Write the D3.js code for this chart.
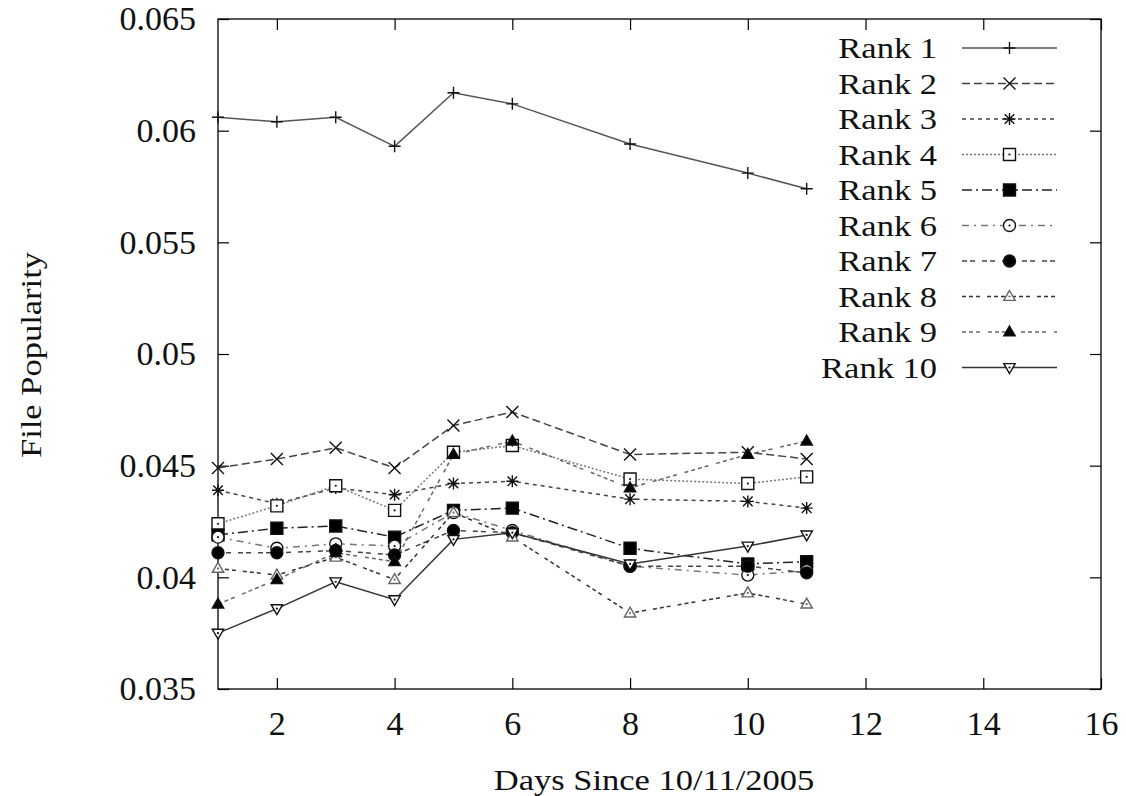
<!DOCTYPE html>
<html>
<head>
<meta charset="utf-8">
<script src="https://cdn.jsdelivr.net/npm/d3@7"></script>
<style>
  html, body { margin: 0; padding: 0; background: #fff; }
  svg { display: block; }
  text { font-family: "Liberation Serif", "Times New Roman", Times, serif; fill: #111; }
</style>
</head>
<body>
<svg id="chart" width="1126" height="796"></svg>
<script>
// Sampling days (days since 10/11/2005)
const days = [1, 2, 3, 4, 5, 6, 8, 10, 11];

// File popularity for each rank on each sampled day
const rank1  = [0.0606, 0.0604, 0.0606, 0.0593, 0.0617, 0.0612, 0.0594, 0.0581, 0.0574];
const rank2  = [0.0449, 0.0453, 0.0458, 0.0449, 0.0468, 0.0474, 0.0455, 0.0456, 0.0453];
const rank3  = [0.0439, 0.0433, 0.0440, 0.0437, 0.0442, 0.0443, 0.0435, 0.0434, 0.0431];
const rank4  = [0.0424, 0.0432, 0.0441, 0.0430, 0.0456, 0.0459, 0.0444, 0.0442, 0.0445];
const rank5  = [0.0419, 0.0422, 0.0423, 0.0418, 0.0430, 0.0431, 0.0413, 0.0406, 0.0407];
const rank6  = [0.0418, 0.0413, 0.0415, 0.0414, 0.0429, 0.0421, 0.0405, 0.0401, 0.0403];
const rank7  = [0.0411, 0.0411, 0.0412, 0.0410, 0.0421, 0.0420, 0.0405, 0.0405, 0.0402];
const rank8  = [0.0404, 0.0401, 0.0409, 0.0399, 0.0429, 0.0418, 0.0384, 0.0393, 0.0388];
const rank9  = [0.0388, 0.0399, 0.0411, 0.0407, 0.0455, 0.0461, 0.0440, 0.0455, 0.0461];
const rank10 = [0.0375, 0.0386, 0.0398, 0.0390, 0.0417, 0.0420, 0.0406, 0.0414, 0.0419];

const seriesNames = ["Rank 1", "Rank 2", "Rank 3", "Rank 4", "Rank 5",
                     "Rank 6", "Rank 7", "Rank 8", "Rank 9", "Rank 10"];
const seriesValues = [rank1, rank2, rank3, rank4, rank5, rank6, rank7, rank8, rank9, rank10];

// Axis ticks
const xTicks = [2, 4, 6, 8, 10, 12, 14, 16];
const yTicks = [0.035, 0.04, 0.045, 0.05, 0.055, 0.06, 0.065];
const yTickLabels = ["0.035", "0.04", "0.045", "0.05", "0.055", "0.06", "0.065"];

// Line style and point type per series (gnuplot-like)
const styles = [
  { dash: null,              color: "#555", marker: "plus" },
  { dash: "8,4",             color: "#444", marker: "cross" },
  { dash: "4,4",             color: "#444", marker: "star" },
  { dash: "2,2",             color: "#777", marker: "boxOpen" },
  { dash: "10,4,2,4",        color: "#222", marker: "boxFilled" },
  { dash: "7,5,2,5",         color: "#777", marker: "circleOpen" },
  { dash: "5,3,5,7",         color: "#444", marker: "circleFilled" },
  { dash: "4,3,4,3,4,7",     color: "#333", marker: "triOpen" },
  { dash: "4,3,4,3,4,8,4,3", color: "#666", marker: "triFilled" },
  { dash: null,              color: "#333", marker: "triDownOpen" }
];

const FONT = '"Liberation Serif", "Times New Roman", Times, serif';
const W = 1126, H = 796;
const margin = { left: 218, right: 25, top: 19, bottom: 107 };

const svg = d3.select("#chart");

const x = d3.scaleLinear().domain([1, 16]).range([margin.left, W - margin.right]);
const y = d3.scaleLinear().domain([0.035, 0.065]).range([H - margin.bottom, margin.top]);

// Marker shapes as small path strings centred on (0,0)
function markerPath(type) {
  const p = d3.path();
  const s = 6;
  switch (type) {
    case "plus":
      p.moveTo(-s, 0); p.lineTo(s, 0); p.moveTo(0, -s); p.lineTo(0, s); break;
    case "cross":
      p.moveTo(-s, -s); p.lineTo(s, s); p.moveTo(-s, s); p.lineTo(s, -s); break;
    case "star":
      p.moveTo(-s, 0); p.lineTo(s, 0); p.moveTo(0, -s); p.lineTo(0, s);
      p.moveTo(-s*0.8, -s*0.8); p.lineTo(s*0.8, s*0.8);
      p.moveTo(-s*0.8, s*0.8); p.lineTo(s*0.8, -s*0.8); break;
    case "boxOpen":
    case "boxFilled":
      p.rect(-s, -s, 2*s, 2*s); break;
    case "circleOpen":
    case "circleFilled":
      p.moveTo(s, 0); p.arc(0, 0, s, 0, 2*Math.PI); break;
    case "triOpen":
    case "triFilled":
      p.moveTo(0, -s); p.lineTo(s*0.95, s*0.65); p.lineTo(-s*0.95, s*0.65); p.closePath(); break;
    case "triDownOpen":
      p.moveTo(0, s); p.lineTo(s*0.95, -s*0.65); p.lineTo(-s*0.95, -s*0.65); p.closePath(); break;
  }
  return p.toString();
}

function drawMarker(g, type, cx, cy) {
  const filled = type === "boxFilled" || type === "circleFilled" || type === "triFilled";
  const strokeCol = type === "triOpen" ? "#666" : "#111";
  g.append("path")
    .attr("d", markerPath(type))
    .attr("transform", `translate(${cx},${cy})`)
    .attr("fill", filled ? "#000" : (type === "plus" || type === "cross" || type === "star" ? "none" : "#fff"))
    .attr("stroke", strokeCol)
    .attr("stroke-width", 1.4);
  if (["boxOpen", "circleOpen", "triOpen", "triDownOpen"].includes(type)) {
    g.append("circle")
      .attr("cx", cx).attr("cy", cy).attr("r", 1.1)
      .attr("fill", strokeCol);
  }
}

// Axes: ticks point inward and are mirrored on all four sides
const tickLen = 11;
const xAxisB = d3.axisBottom(x).tickValues(xTicks).tickSize(-tickLen).tickPadding(22).tickFormat(d3.format("d"));
const xAxisT = d3.axisTop(x).tickValues(xTicks).tickSize(-tickLen).tickFormat("");
const yAxisL = d3.axisLeft(y).tickValues(yTicks).tickSize(-tickLen).tickPadding(22)
  .tickFormat((d, i) => yTickLabels[i]);
const yAxisR = d3.axisRight(y).tickValues(yTicks).tickSize(-tickLen).tickFormat("");

function styleAxis(g) {
  g.select(".domain").remove();
  g.selectAll(".tick line").attr("stroke", "#000").attr("stroke-width", 1.2);
  g.selectAll(".tick text")
    .attr("font-family", FONT)
    .attr("font-size", 34)
    .attr("fill", "#111");
}

svg.append("g").attr("transform", `translate(0,${y.range()[0]})`).call(xAxisB).call(styleAxis);
svg.append("g").attr("transform", `translate(0,${y.range()[1]})`).call(xAxisT).call(styleAxis);
svg.append("g").attr("transform", `translate(${x.range()[0]},0)`).call(yAxisL).call(styleAxis);
svg.append("g").attr("transform", `translate(${x.range()[1]},0)`).call(yAxisR).call(styleAxis);

// Plot frame
svg.append("rect")
  .attr("x", x.range()[0]).attr("y", y.range()[1])
  .attr("width", x.range()[1] - x.range()[0])
  .attr("height", y.range()[0] - y.range()[1])
  .attr("fill", "none").attr("stroke", "#000").attr("stroke-width", 1.3);

// Series lines and points
const line = d3.line().x(d => x(d[0])).y(d => y(d[1]));
const plot = svg.append("g");

seriesValues.forEach((vals, i) => {
  const pts = days.map((d, j) => [d, vals[j]]);
  const st = styles[i];
  plot.append("path")
    .attr("d", line(pts))
    .attr("fill", "none")
    .attr("stroke", st.color)
    .attr("stroke-width", 1.5)
    .attr("stroke-dasharray", st.dash);
});
seriesValues.forEach((vals, i) => {
  const g = plot.append("g");
  days.forEach((d, j) => drawMarker(g, styles[i].marker, x(d), y(vals[j])));
});

// Legend
const legend = svg.append("g");
const legTextRight = 937, legLineX0 = 962, legLineX1 = 1057, legTop = 48, legStep = 35.5;
seriesNames.forEach((name, i) => {
  const cy = legTop + i * legStep;
  legend.append("text")
    .attr("transform", `translate(${legTextRight},${cy + 10}) scale(1.15,1)`)
    .attr("text-anchor", "end")
    .attr("font-family", FONT)
    .attr("font-size", 30)
    .text(name);
  legend.append("line")
    .attr("x1", legLineX0).attr("x2", legLineX1)
    .attr("y1", cy).attr("y2", cy)
    .attr("stroke", styles[i].color)
    .attr("stroke-width", 1.5)
    .attr("stroke-dasharray", styles[i].dash);
  drawMarker(legend, styles[i].marker, (legLineX0 + legLineX1) / 2, cy);
});

// Axis titles
svg.append("text")
  .attr("transform", `translate(654,790) scale(1.15,1)`)
  .attr("text-anchor", "middle")
  .attr("font-family", FONT)
  .attr("font-size", 30)
  .text("Days Since 10/11/2005");

svg.append("text")
  .attr("transform", `translate(41,355) rotate(-90) scale(1.15,1)`)
  .attr("text-anchor", "middle")
  .attr("font-family", FONT)
  .attr("font-size", 30)
  .text("File Popularity");
</script>
</body>
</html>
